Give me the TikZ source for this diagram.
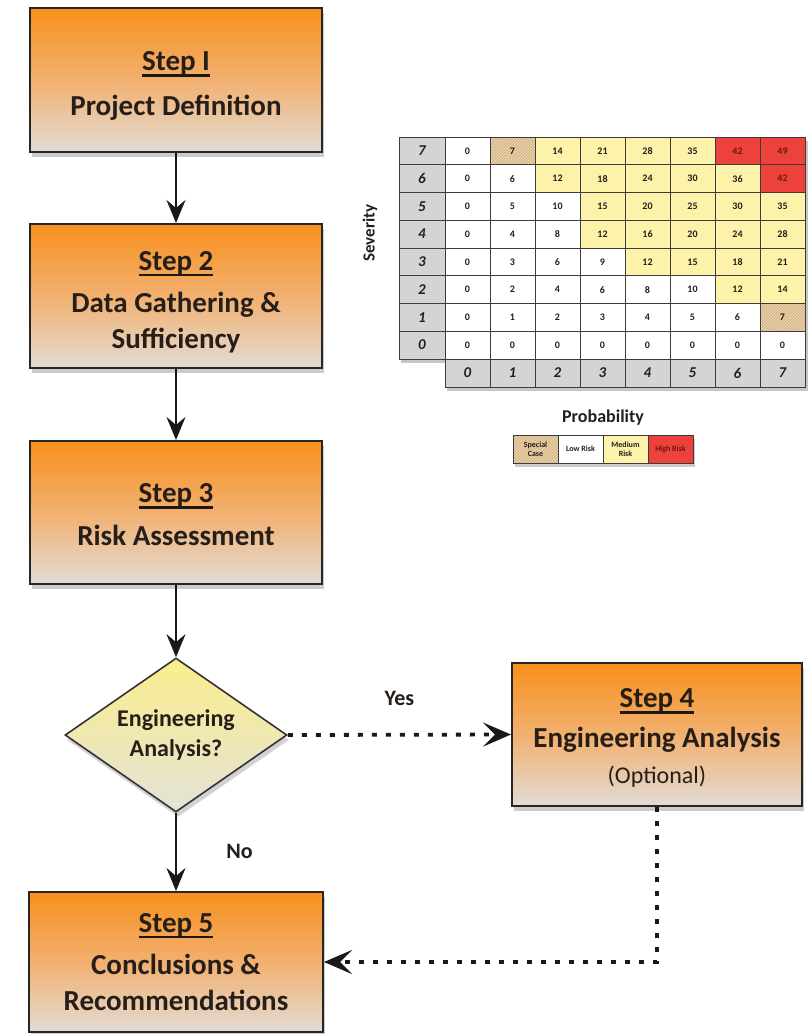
\documentclass[tikz,border=0pt]{standalone}
\usepackage{fontspec}
\setmainfont{Carlito}
\usetikzlibrary{arrows.meta,shapes.geometric,shadows,patterns,calc}
\definecolor{orangetop}{RGB}{247,144,28}
\definecolor{orangemid}{RGB}{242,176,112}
\definecolor{boxbottom}{RGB}{226,220,212}
\definecolor{diatop}{RGB}{250,238,140}
\definecolor{diabottom}{RGB}{228,226,214}
\definecolor{txt}{RGB}{38,30,24}
\definecolor{cellyellow}{RGB}{252,242,170}
\definecolor{cellred}{RGB}{237,66,60}
\definecolor{cellgray}{RGB}{212,212,212}
\definecolor{celltan}{RGB}{214,182,136}
\definecolor{hatch}{RGB}{242,226,196}
\definecolor{darkred}{RGB}{110,20,20}
\definecolor{gridline}{RGB}{60,60,60}
\newcommand\fs[2]{\fontsize{#1}{#2}\selectfont}
\newsavebox\ulbox
\newcommand\stepul[1]{\sbox\ulbox{#1}\rlap{\color{txt!80!black}\rule[-6pt]{\wd\ulbox}{2.6pt}}\usebox\ulbox}
\tikzset{
  stepbox/.style={draw=black!85, line width=2pt, top color=orangetop, bottom color=boxbottom,
    middle color=orangemid,
    minimum width=292pt, minimum height=144pt, inner sep=0pt,
    drop shadow={opacity=0.4, shadow xshift=2pt, shadow yshift=-5pt}},
  steptext/.style={align=center, inner sep=0pt, font=\fs{29}{36}\bfseries, text=txt},
  decision/.style={diamond, aspect=1.44, draw=black!80, line width=1.6pt, top color=diatop, bottom color=diabottom,
    minimum width=222pt, minimum height=154pt, inner sep=0pt, align=center,
    font=\fs{24}{30}\bfseries, text=txt,
    drop shadow={opacity=0.35, shadow xshift=2pt, shadow yshift=-5pt}},
  flow/.style={line width=2.2pt, black!90, -{Stealth[length=23pt,width=19pt,inset=8pt]}},
  dotflow/.style={line width=3.8pt, black!90, dash pattern=on 5pt off 9pt,
    -{Stealth[length=28pt,width=24pt,inset=12pt]}},
  lbl/.style={font=\fs{22}{26}\bfseries, text=txt},
  cell/.style={draw=gridline, line width=0.8pt, minimum width=45pt, minimum height=27.75pt,
    inner sep=0pt, font=\fs{10}{12}\bfseries, text=txt},
  special/.style={preaction={fill=celltan}, pattern=north east lines, pattern color=hatch},
  hdr/.style={cell, fill=cellgray, font=\fs{15}{18}\bfseries\itshape},
  leg/.style={cell, minimum height=28pt, align=center, font=\fs{8}{9}\bfseries},
}
\begin{document}
\begin{tikzpicture}[x=1pt,y=-1pt]
\useasboundingbox (0,0) rectangle (807,1034);
\fill[white] (0,0) rectangle (807,1034);

% ---------------- flow chart ----------------
\node[stepbox] (s1) at (176,80) {};
\node[steptext] (t1) at (176,86) {\stepul{Step I}\\[9pt]Project Definition};
\node[stepbox] (s2) at (176,296) {};
\node[steptext] (t2) at (176,302) {\stepul{Step 2}\\[6pt]Data Gathering \&\\Sufficiency};
\node[stepbox, minimum height=143pt] (s3) at (176,512.5) {};
\node[steptext] (t3) at (176,515) {\stepul{Step 3}\\[7pt]Risk Assessment};
\node[decision] (d) at (176,735) {Engineering\\Analysis?};
\node[stepbox, minimum width=290pt, minimum height=143pt] (s4) at (657,734.5) {};
\node[steptext] (t4) at (657,738) {\stepul{Step 4}\\[4pt]Engineering Analysis\\{\fs{24}{30}\mdseries (Optional)}};
\node[stepbox, minimum width=294pt, minimum height=140pt] (s5) at (176,962) {};
\node[steptext] (t5) at (176,962) {\stepul{Step 5}\\[6pt]Conclusions \&\\Recommendations};

\draw[flow] (s1) -- (s2);
\draw[flow] (s2) -- (s3);
\draw[flow] (s3) -- (d);
\draw[flow] (d.south) -- node[lbl, midway, right=46pt] {No} (s5.north);
\draw[dotflow] (d.east) -- node[lbl, midway, above=24pt] {Yes} (s4.west);
\draw[dotflow] (s4.south) |- (s5.east);

% ---------------- risk matrix ----------------
\fill[black, opacity=0.22] (401,141) rectangle (447,363);
\fill[black, opacity=0.22] (447,141) rectangle (808,391);
\fill[black, opacity=0.2] (515,439) rectangle (695,467);

\foreach \r in {0,...,7}{
  \node[hdr, minimum width=46pt] (h\r) at (422,{137+(7-\r)*27.75+13.875}) {\r};
  \foreach \c in {0,...,7}{
    \pgfmathtruncatemacro\v{\r*\c}
    \def\cf{white}\def\tc{txt}
    \ifnum\v>11 \def\cf{cellyellow}\fi
    \ifnum\v>41 \def\cf{cellred}\def\tc{darkred}\fi
    \ifnum\v=7
      \node[cell, special] (c\r\c) at ({467.5+45*\c},{137+(7-\r)*27.75+13.875}) {\v};
    \else
      \node[cell, fill=\cf, text=\tc] (c\r\c) at ({467.5+45*\c},{137+(7-\r)*27.75+13.875}) {\v};
    \fi
  }
}
\foreach \c in {0,...,7}{
  \node[hdr, minimum height=28pt] (b\c) at ({467.5+45*\c},373) {\c};
}
\node[rotate=90, font=\fs{17}{20}\bfseries, text=txt] (sev) at (370,233) {Severity};
\node[font=\fs{18}{22}\bfseries, text=txt] (prob) at (603,418) {Probability};

% legend
\node[leg, special] (l1) at (535.5,449) {Special\\Case};
\node[leg, fill=white] (l2) at (580.5,449) {Low Risk};
\node[leg, fill=cellyellow] (l3) at (625.5,449) {Medium\\Risk};
\node[leg, fill=cellred, text=darkred] (l4) at (670.5,449) {High Risk};
\end{tikzpicture}
\end{document}
